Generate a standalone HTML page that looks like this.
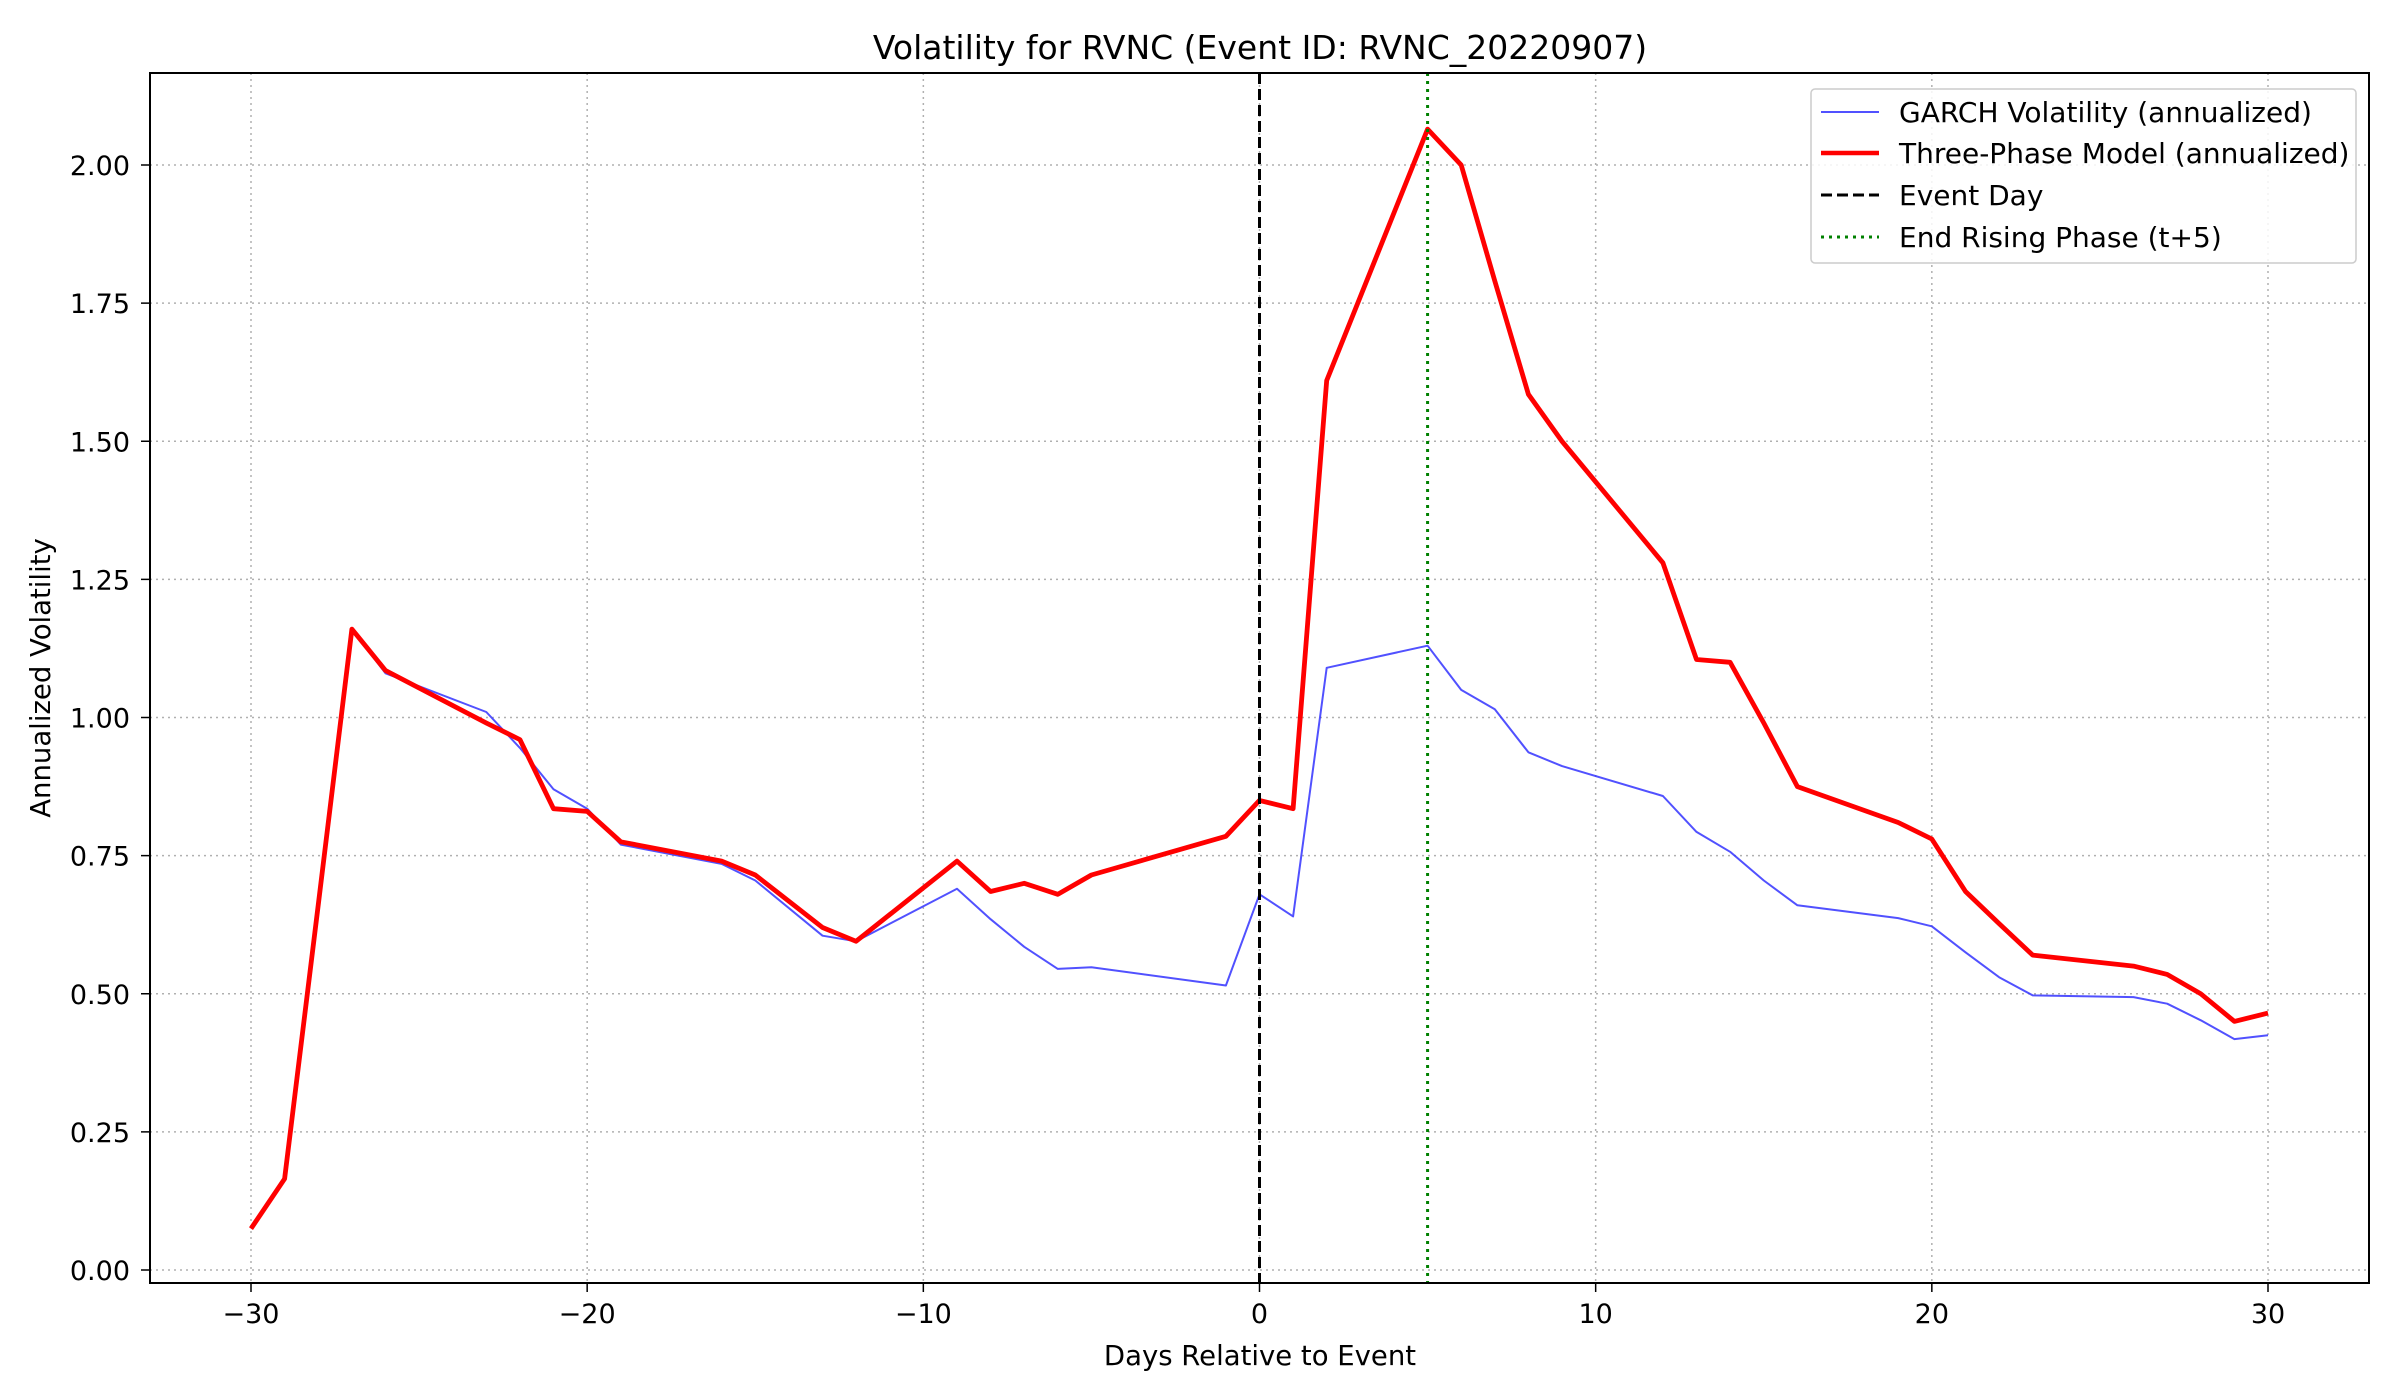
<!DOCTYPE html>
<html><head><meta charset="utf-8"><style>
html,body{margin:0;padding:0;background:#fff;}
svg{display:block;font-family:"DejaVu Sans","Liberation Sans",sans-serif;}
</style></head><body>
<svg id="chart" width="2400" height="1400" viewBox="0 0 2400 1400" xmlns="http://www.w3.org/2000/svg">
<rect x="0" y="0" width="2400" height="1400" fill="#fff"/>
<g id="grid"></g>
<g id="series"></g>
<rect x="150" y="73" width="2219" height="1210" fill="none" stroke="#000" stroke-width="2"/>
<g id="ticks"></g>
<text x="1260" y="59" font-size="33" text-anchor="middle">Volatility for RVNC (Event ID: RVNC_20220907)</text>
<text x="1260" y="1365" font-size="27.5" text-anchor="middle">Days Relative to Event</text>
<text x="0" y="0" font-size="27.5" text-anchor="middle" transform="translate(50,678) rotate(-90)">Annualized Volatility</text>
<g>
<rect x="1811" y="89" width="545" height="174" rx="4" fill="#fff" fill-opacity="0.85" stroke="#ccc" stroke-width="1.5"/>
<line x1="1821" y1="112" x2="1879" y2="112" stroke="#3333ff" stroke-opacity="0.85" stroke-width="2"/>
<text x="1899" y="122" font-size="28">GARCH Volatility (annualized)</text>
<line x1="1821" y1="153" x2="1879" y2="153" stroke="#ff0000" stroke-width="4.5"/>
<text x="1899" y="163" font-size="28">Three-Phase Model (annualized)</text>
<line x1="1821" y1="195" x2="1879" y2="195" stroke="#000" stroke-width="3" stroke-dasharray="11,5"/>
<text x="1899" y="205" font-size="28">Event Day</text>
<line x1="1821" y1="237" x2="1879" y2="237" stroke="#008000" stroke-width="3" stroke-dasharray="3,5"/>
<text x="1899" y="247" font-size="28">End Rising Phase (t+5)</text>
</g>
</svg>
<script>
const days = [-30,-29,-28,-27,-26,-23,-22,-21,-20,-19,-16,-15,-13,-12,-9,-8,-7,-6,-5,-1,0,1,2,5,6,7,8,9,12,13,14,15,16,19,20,21,22,23,26,27,28,29,30];
const garch = [0.075,0.165,0.66,1.16,1.08,1.01,0.945,0.87,0.835,0.77,0.735,0.705,0.605,0.595,0.69,0.635,0.585,0.545,0.548,0.515,0.68,0.64,1.09,1.13,1.05,1.015,0.937,0.912,0.858,0.793,0.757,0.705,0.66,0.637,0.622,0.575,0.53,0.497,0.494,0.482,0.452,0.418,0.425];
const threePhase = [0.075,0.165,0.66,1.16,1.085,0.99,0.96,0.835,0.83,0.775,0.74,0.715,0.62,0.595,0.74,0.685,0.70,0.68,0.715,0.785,0.85,0.835,1.61,2.065,2.0,1.79,1.585,1.50,1.28,1.105,1.10,0.99,0.875,0.81,0.78,0.685,0.627,0.57,0.55,0.535,0.50,0.45,0.465];
const xTicks = [-30,-20,-10,0,10,20,30];
const xTickLabels = ["\u221230","\u221220","\u221210","0","10","20","30"];
const yTicks = [0,0.25,0.5,0.75,1.0,1.25,1.5,1.75,2.0];
const yTickLabels = ["0.00","0.25","0.50","0.75","1.00","1.25","1.50","1.75","2.00"];
const eventDay = 0, risingEnd = 5;

const NS="http://www.w3.org/2000/svg";
const L=150,R=2369,T=73,B=1283;
function xs(d){return 251+(d+30)*(2268-251)/60;}
function ys(v){return 1270-v*(1270-165)/2;}
function mk(tag,attrs,parent){const e=document.createElementNS(NS,tag);for(const k in attrs)e.setAttribute(k,attrs[k]);parent.appendChild(e);return e;}
const grid=document.getElementById('grid'),ticks=document.getElementById('ticks'),series=document.getElementById('series');
xTicks.forEach((t,i)=>{
  const x=xs(t);
  const g=mk('line',{x1:x,y1:T,x2:x,y2:B,stroke:'#b0b0b0','stroke-width':1.5,'stroke-dasharray':'2,4'},grid);
  
  
  const tk=mk('line',{x1:x,y1:B,x2:x,y2:B+9,stroke:'#000','stroke-width':1.5},ticks);
  
  
  const tx=mk('text',{x:x,y:B+40,'font-size':27,'text-anchor':'middle'},ticks);
  tx.textContent=xTickLabels[i];
  
  
});
yTicks.forEach((t,i)=>{
  const y=ys(t);
  const g=mk('line',{x1:L,y1:y,x2:R,y2:y,stroke:'#b0b0b0','stroke-width':1.5,'stroke-dasharray':'2,4'},grid);
  
  
  const tk=mk('line',{x1:L-9,y1:y,x2:L,y2:y,stroke:'#000','stroke-width':1.5},ticks);
  
  
  const tx=mk('text',{x:L-20,y:y+10,'font-size':27,'text-anchor':'end'},ticks);
  tx.textContent=yTickLabels[i];
  
  
});
function pts(vals){return days.map((d,i)=>xs(d).toFixed(1)+','+ys(vals[i]).toFixed(1)).join(' ');}
const gl=mk('polyline',{points:pts(garch),fill:'none',stroke:'#3333ff','stroke-opacity':0.85,'stroke-width':2,'stroke-linejoin':'round'},series);


const tl=mk('polyline',{points:pts(threePhase),fill:'none',stroke:'#ff0000','stroke-width':4.8,'stroke-linejoin':'round'},series);


const ev=mk('line',{x1:xs(eventDay),y1:T,x2:xs(eventDay),y2:B,stroke:'#000','stroke-width':3,'stroke-dasharray':'11,5'},series);


const rp=mk('line',{x1:xs(risingEnd),y1:T,x2:xs(risingEnd),y2:B,stroke:'#008000','stroke-width':3,'stroke-dasharray':'3,5'},series);


</script>
</body></html>
